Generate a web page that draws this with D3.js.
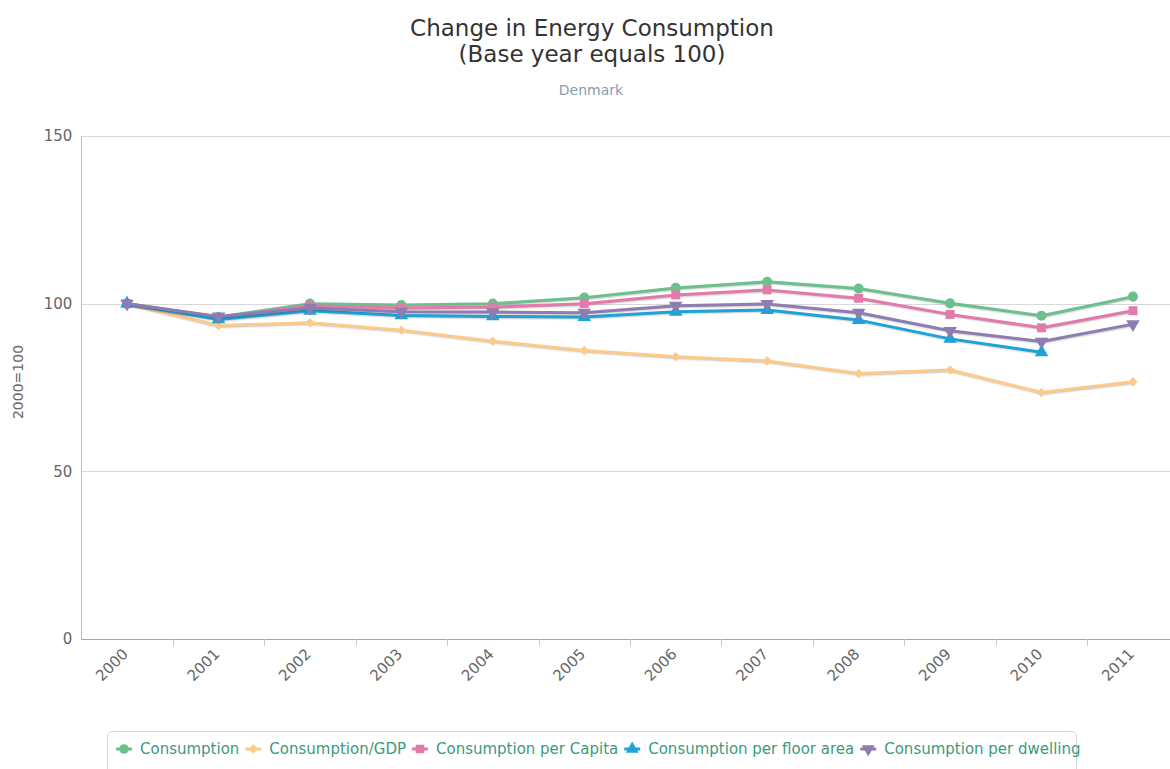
<!DOCTYPE html>
<html>
<head>
<meta charset="utf-8">
<script src="https://cdn.jsdelivr.net/npm/d3@7"></script>
<style>
body { margin: 0; overflow: hidden; background: #fff; }
svg { display: block; font-family: "DejaVu Sans", sans-serif; }
</style>
</head>
<body>
<svg></svg>
<script>
var years = ["2000", "2001", "2002", "2003", "2004", "2005", "2006", "2007", "2008", "2009", "2010", "2011"];
var yTicks = [0, 50, 100, 150];

var consumption = [100, 96, 100, 99.6, 100, 101.8, 104.7, 106.5, 104.5, 100.1, 96.4, 102.1];
var consumptionGdp = [100, 93.5, 94.3, 92.1, 88.8, 86, 84.2, 82.9, 79.2, 80.2, 73.5, 76.7];
var perCapita = [100, 95.8, 99.4, 98.7, 99, 100, 102.6, 104.1, 101.6, 96.8, 92.8, 97.9];
var perFloorArea = [100, 95.3, 97.9, 96.5, 96.2, 96, 97.6, 98.1, 95.1, 89.5, 85.5, null];
var perDwelling = [100, 96.2, 98.7, 97.6, 97.5, 97.3, 99.4, 99.9, 97.3, 91.9, 88.7, 93.9];

var seriesNames = ["Consumption", "Consumption/GDP", "Consumption per Capita", "Consumption per floor area", "Consumption per dwelling"];
var seriesValues = [consumption, consumptionGdp, perCapita, perFloorArea, perDwelling];
var colors = ["#6cc08b", "#fdca89", "#e27ba9", "#1ea3d9", "#8f7db2"];
var symbols = ["circle", "diamond", "square", "triangle", "triangleDown"];

var width = 1170, height = 769;
var svg = d3.select("svg").attr("width", width).attr("height", height);

var plotLeft = 81.3, plotRight = 1178.7, plotTop = 136, plotBottom = 639;

var x = d3.scaleBand().domain(years).range([plotLeft, plotRight]);
var y = d3.scaleLinear().domain([0, 150]).range([plotBottom, plotTop]);
var bw = x.bandwidth();

// titles
svg.append("text")
    .attr("x", 592).attr("y", 36)
    .attr("text-anchor", "middle")
    .attr("fill", "#333")
    .style("font-size", "23px")
    .text("Change in Energy Consumption");
svg.append("text")
    .attr("x", 592).attr("y", 62)
    .attr("text-anchor", "middle")
    .attr("fill", "#333")
    .style("font-size", "23px")
    .text("(Base year equals 100)");

svg.append("text")
    .attr("x", 591).attr("y", 95)
    .attr("text-anchor", "middle")
    .attr("fill", "#8a9bb2")
    .style("font-size", "14px")
    .text("Denmark");

// grid
svg.append("g")
    .selectAll("line")
    .data(yTicks.filter(d => d > 0))
    .join("line")
    .attr("x1", plotLeft).attr("x2", plotRight)
    .attr("y1", d => Math.round(y(d)) + 0.5).attr("y2", d => Math.round(y(d)) + 0.5)
    .attr("stroke", "#d8d8d8");

svg.append("line")
    .attr("x1", 81.5).attr("x2", 81.5)
    .attr("y1", plotTop).attr("y2", plotBottom)
    .attr("stroke", "#c0c0c0");

// y axis
var yAxis = svg.append("g")
    .attr("transform", "translate(" + plotLeft + ",0)")
    .call(d3.axisLeft(y).tickValues(yTicks).tickSize(0).tickPadding(9));
yAxis.select(".domain").remove();
yAxis.selectAll("text").attr("fill", "#666").style("font-size", "15px").style("font-family", "DejaVu Sans");

svg.append("text")
    .attr("transform", "translate(23,382) rotate(-90)")
    .attr("text-anchor", "middle")
    .attr("fill", "#666")
    .style("font-size", "14px")
    .text("2000=100");

// x axis
svg.append("line")
    .attr("x1", plotLeft).attr("x2", plotRight)
    .attr("y1", plotBottom + 0.5).attr("y2", plotBottom + 0.5)
    .attr("stroke", "#a8a8a8");

svg.append("g")
    .selectAll("line")
    .data(years.slice(1))
    .join("line")
    .attr("x1", d => Math.round(x(d)) + 0.5).attr("x2", d => Math.round(x(d)) + 0.5)
    .attr("y1", plotBottom).attr("y2", plotBottom + 7)
    .attr("stroke", "#c8c8c8");

svg.append("g")
    .selectAll("text")
    .data(years)
    .join("text")
    .attr("transform", d => "translate(" + (x(d) + bw / 2 + 2) + "," + (plotBottom + 16) + ") rotate(-45)")
    .attr("text-anchor", "end")
    .attr("fill", "#666")
    .style("font-size", "15px")
    .text(d => d);

// series
function symbolPath(name, size) {
    if (name == "circle") return d3.symbol(d3.symbolCircle, size)();
    if (name == "square") return d3.symbol(d3.symbolSquare, size)();
    if (name == "triangle") return d3.symbol(d3.symbolTriangle, size)();
    if (name == "diamond") return d3.symbol(d3.symbolSquare, size)();
    return d3.symbol(d3.symbolTriangle, size)();
}
function symbolRotate(name) {
    if (name == "diamond") return " rotate(45)";
    if (name == "triangleDown") return " rotate(180)";
    return "";
}

var line = d3.line()
    .defined(d => d.v != null)
    .x(d => x(d.year) + bw / 2)
    .y(d => y(d.v));

var shadowSteps = [[5, 0.05], [3, 0.1], [1, 0.15]];

seriesValues.forEach(function (vals, i) {
    var pts = years.map((yr, j) => ({ year: yr, v: vals[j] }));
    var g = svg.append("g");
    shadowSteps.forEach(function (s) {
        g.append("path")
            .attr("d", line(pts))
            .attr("fill", "none")
            .attr("stroke", "#000")
            .attr("stroke-opacity", s[1])
            .attr("stroke-width", s[0])
            .attr("transform", "translate(1,1)");
    });
    g.append("path")
        .attr("d", line(pts))
        .attr("fill", "none")
        .attr("stroke", colors[i])
        .attr("stroke-width", 3)
        .attr("stroke-linejoin", "round");
    var size = symbols[i] == "diamond" ? 45 : 80;
    g.selectAll(".pt")
        .data(pts.filter(d => d.v != null))
        .join("path")
        .attr("d", symbolPath(symbols[i], size))
        .attr("transform", d => "translate(" + (x(d.year) + bw / 2) + "," + y(d.v) + ")" + symbolRotate(symbols[i]))
        .attr("fill", colors[i]);
});

// legend
svg.append("rect")
    .attr("x", 107.5).attr("y", 731.5)
    .attr("width", 969).attr("height", 60)
    .attr("rx", 5)
    .attr("fill", "none")
    .attr("stroke", "#d4d4d4");

var lx = 116;
seriesNames.forEach(function (name, i) {
    var g = svg.append("g").attr("transform", "translate(" + lx + ",749)");
    g.append("line")
        .attr("x1", 0).attr("x2", 16)
        .attr("stroke", colors[i]).attr("stroke-width", 3);
    g.append("path")
        .attr("d", symbolPath(symbols[i], symbols[i] == "diamond" ? 45 : 72))
        .attr("transform", "translate(8,0)" + symbolRotate(symbols[i]))
        .attr("fill", colors[i]);
    var t = g.append("text")
        .attr("x", 24).attr("y", 5)
        .attr("fill", "#3b9b7e")
        .style("font-size", "15px")
        .text(name);
    lx += 24 + t.node().getComputedTextLength() + 6;
});
</script>
</body>
</html>
